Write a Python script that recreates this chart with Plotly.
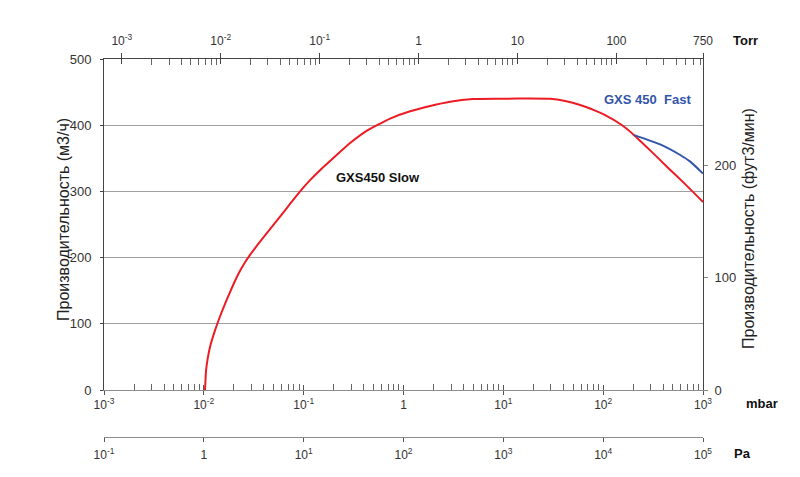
import plotly.graph_objects as go

# ---- data ----
slow_p = [0.01028, 0.01052, 0.01089, 0.01153, 0.01294, 0.01452, 0.0163, 0.01832, 0.02056,
          0.02307, 0.02588, 0.02904, 0.03656, 0.04603, 0.05801, 0.07305, 0.09204, 0.1159,
          0.1459, 0.1971, 0.2917, 0.4121, 0.5433, 0.7338, 1.165, 1.849, 2.931, 4.977, 9.95,
          18.57, 29.45, 41.6, 58.8, 83.2, 102.4, 154.9, 204.5, 295.9, 437.5, 663, 1000]
slow_q = [0, 29, 46, 65, 90, 111, 130, 148, 165,
          180, 193, 204, 224, 243, 262, 281, 300, 317,
          332, 350, 373, 390, 400, 410, 421, 429, 435.5, 439.5, 440,
          440.5, 440, 436.5, 430.5, 422, 416, 400, 385, 362, 337, 311, 284]
fast_p = [204.5, 372, 591, 745, 1000]
fast_q = [385, 371, 355, 345, 327]

mbar_major = [1e-3, 1e-2, 1e-1, 1, 10, 100, 1000]
mbar_text = ["10<sup>-3</sup>", "10<sup>-2</sup>", "10<sup>-1</sup>", "1",
             "10<sup>1</sup>", "10<sup>2</sup>", "10<sup>3</sup>"]
torr_major = [1e-3, 1e-2, 1e-1, 1, 10, 100, 750]
torr_text = ["10<sup>-3</sup>", "10<sup>-2</sup>", "10<sup>-1</sup>", "1", "10", "100", "750"]
pa_major = [1e-1, 1, 10, 100, 1e3, 1e4, 1e5]
pa_text = ["10<sup>-1</sup>", "1", "10<sup>1</sup>", "10<sup>2</sup>",
           "10<sup>3</sup>", "10<sup>4</sup>", "10<sup>5</sup>"]
m3h_ticks = [0, 100, 200, 300, 400, 500]
cfm_ticks = [0, 100, 200]
M3H_TO_CFM = 0.5886

mbar_minor = [m * 10.0**e for e in range(-3, 3) for m in range(2, 10)]
torr_minor = [m * 10.0**e for e in range(-3, 3) for m in range(2, 10) if m * 10.0**e < 750]

FONT = "Liberation Sans, Arial, sans-serif"
AX = "#333333"
GRAY = "#8c8c8c"

fig = go.Figure()
fig.add_trace(go.Scatter(x=slow_p, y=slow_q, mode="lines",
                         line=dict(color="#ed1c24", width=2, shape="spline", smoothing=0.5),
                         hoverinfo="skip"))
fig.add_trace(go.Scatter(x=fast_p, y=fast_q, mode="lines",
                         line=dict(color="#3355aa", width=2, shape="spline", smoothing=0.6),
                         hoverinfo="skip"))

ydom = [47 / 378, 1]

fig.update_layout(
    width=800, height=477,
    margin=dict(l=104, r=97, t=59, b=40),
    paper_bgcolor="white", plot_bgcolor="white",
    showlegend=False,
    font=dict(family=FONT, size=12, color=AX),
    xaxis=dict(type="log", range=[-3, 3], tickvals=mbar_major, ticktext=mbar_text,
               ticks="outside", ticklen=4, tickcolor="#555", showline=True, linecolor=GRAY,
               showgrid=False, zeroline=False, tickfont=dict(size=12, color=AX),
               minor=dict(tickvals=mbar_minor, ticks="inside", ticklen=6, tickcolor="#666",
                          showgrid=False)),
    xaxis4=dict(type="log", range=[-3, 3], overlaying="x", anchor="y", side="bottom",
                tickvals=mbar_major, ticks="inside", ticklen=5, tickcolor="#555",
                showticklabels=False, showline=False, showgrid=False, zeroline=False),
    xaxis2=dict(type="log", range=[-3.18, 2.875], overlaying="x", anchor="y", side="top",
                tickvals=torr_major, ticktext=torr_text,
                ticks="outside", ticklen=5, tickcolor="#444", showline=True, linecolor="#444",
                showgrid=False, zeroline=False, tickfont=dict(size=12, color=AX),
                ticklabelstandoff=3,
                minor=dict(tickvals=torr_minor, ticks="inside", ticklen=6, tickcolor="#666",
                           showgrid=False)),
    xaxis5=dict(type="log", range=[-3.18, 2.875], overlaying="x", anchor="y", side="top",
                tickvals=torr_major[:-1], ticks="inside", ticklen=5, tickcolor="#444",
                showticklabels=False, showline=False, showgrid=False, zeroline=False),
    xaxis3=dict(type="log", range=[-1, 5], overlaying="x", anchor="free", position=0,
                side="bottom", tickvals=pa_major, ticktext=pa_text,
                ticks="outside", ticklen=4, tickcolor="#555", showline=True, linecolor=GRAY,
                showgrid=False, zeroline=False, tickfont=dict(size=12, color=AX),
                ticklabelstandoff=3),
    yaxis=dict(domain=ydom, range=[0, 500], tickvals=m3h_ticks, ticks="outside", ticklen=3,
               tickcolor="#444", showline=True, linecolor="#444", showgrid=True,
               gridcolor="#a0a0a0", gridwidth=1, zeroline=False,
               tickfont=dict(size=13, color=AX), ticklabelstandoff=6),
    yaxis2=dict(overlaying="y", side="right", anchor="x", range=[0, 500 * M3H_TO_CFM],
                tickvals=cfm_ticks, ticks="outside", ticklen=4, tickcolor="#888",
                showline=True, linecolor="#444", showgrid=False, zeroline=False,
                tickfont=dict(size=13, color=AX), ticklabelstandoff=4),
)

# invisible traces to activate extra axes
for xa, ya in [("x2", "y"), ("x3", "y"), ("x4", "y"), ("x5", "y"), ("x", "y2")]:
    fig.add_trace(go.Scatter(x=[1], y=[0], xaxis=xa, yaxis=ya, mode="markers",
                             marker=dict(opacity=0), hoverinfo="skip"))

def px(xp):
    return (xp - 104) / 599

def py(yp):
    return (437 - yp) / 378

ann = [
    dict(text="<b>Torr</b>", x=px(745), y=py(40), size=13, color="#111", angle=0),
    dict(text="<b>mbar</b>", x=px(762), y=py(403), size=13, color="#111", angle=0),
    dict(text="<b>Pa</b>", x=px(742), y=py(453), size=13, color="#111", angle=0),
    dict(text="Производительность (м3/ч)", x=px(63), y=py(220), size=16, color="#222", angle=-90),
    dict(text="Производительность (фут3/мин)", x=px(748), y=py(229), size=16, color="#222", angle=-90),
    dict(text="<b>GXS450 Slow</b>", x=px(378), y=py(177), size=13, color="#111", angle=0),
    dict(text="<b>GXS 450  Fast</b>", x=px(647), y=py(99), size=13, color="#3355aa", angle=0),
]
for a in ann:
    fig.add_annotation(text=a["text"], x=a["x"], y=a["y"], xref="paper", yref="paper",
                       showarrow=False, textangle=a["angle"], xanchor="center", yanchor="middle",
                       font=dict(family=FONT, size=a["size"], color=a["color"]))

fig.write_html("out.html")
